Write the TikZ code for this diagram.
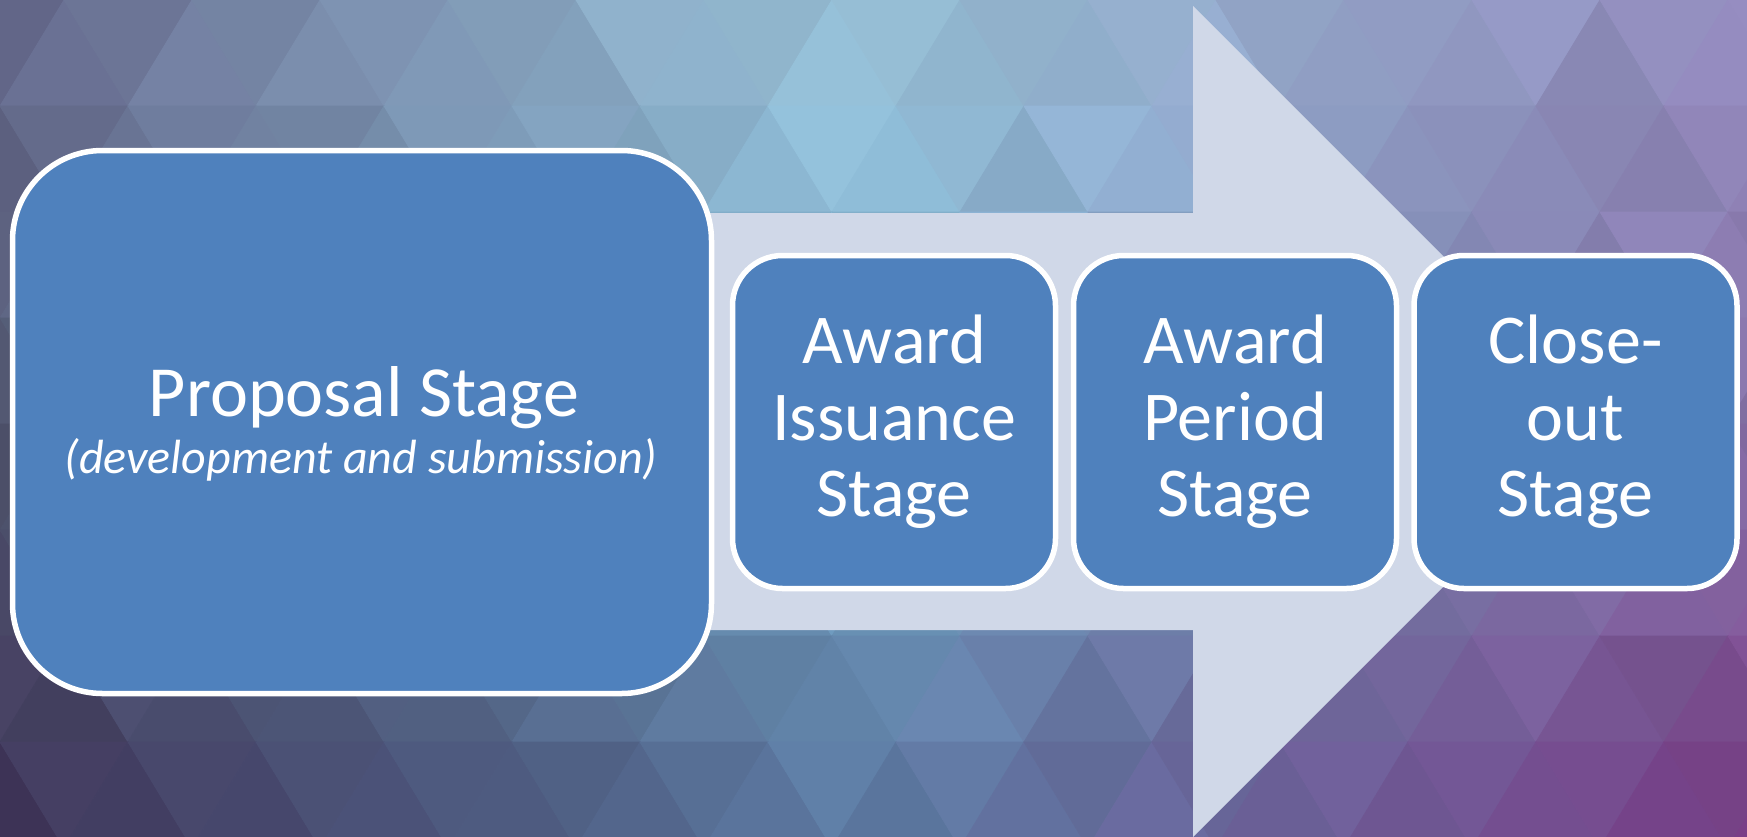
\documentclass[tikz,border=0pt]{standalone}
\usepackage{fontspec}
\setmainfont{Carlito}
\definecolor{TL}{HTML}{6E7299}
\definecolor{TM}{HTML}{A4D0E6}
\definecolor{TR}{HTML}{9890C4}
\definecolor{ML}{HTML}{565C76}
\definecolor{MM}{HTML}{7EB6D8}
\definecolor{MR}{HTML}{8C76AE}
\definecolor{BL}{HTML}{40345A}
\definecolor{BM}{HTML}{5E7CA6}
\definecolor{BR}{HTML}{7E3E8C}
\definecolor{stageblue}{HTML}{4F81BD}
\definecolor{arrowcol}{HTML}{D0D8E8}
\newcommand\mybgcol[2]{%
 \pgfmathsetmacro\fx{max(0,min(1,(#1)/1747))}%
 \pgfmathsetmacro\fy{max(0,min(1,(#2)/836))}%
 \ifdim\fx pt<0.5pt
   \pgfmathsetmacro\hx{\fx*200}%
   \colorlet{rT}{TM!\hx!TL}\colorlet{rM}{MM!\hx!ML}\colorlet{rB}{BM!\hx!BL}%
 \else
   \pgfmathsetmacro\hx{(\fx-0.5)*200}%
   \colorlet{rT}{TR!\hx!TM}\colorlet{rM}{MR!\hx!MM}\colorlet{rB}{BR!\hx!BM}%
 \fi
 \ifdim\fy pt<0.5pt
   \pgfmathsetmacro\hy{\fy*200}\colorlet{cc}{rM!\hy!rT}%
 \else
   \pgfmathsetmacro\hy{(\fy-0.5)*200}\colorlet{cc}{rB!\hy!rM}%
 \fi}
\begin{document}
\begin{tikzpicture}[x=1pt,y=-1pt,
  stagebox/.style={draw=white, line width=5.5pt, fill=stageblue, text=white,
    align=center, inner sep=0pt, font=\fontsize{70}{76.5}\selectfont},
  bigbox/.style={stagebox, minimum width=699pt, minimum height=543pt, rounded corners=90pt},
  smallbox/.style={stagebox, minimum width=323pt, minimum height=333pt, rounded corners=50pt},
  lbl/.style={text=white, inner sep=0pt, anchor=base}]
\useasboundingbox (0,0) rectangle (1747,836);
% background mosaic
\begin{scope}
\clip (0,0) rectangle (1747,836);
\pgfmathsetseed{11}
\foreach \r in {0,...,7}{
  \foreach \k in {-1,...,14}{
    \pgfmathsetmacro\off{mod(\r,2)*64}
    \pgfmathsetmacro\xa{\k*128+\off}
    \pgfmathsetmacro\ya{\r*106}
    \pgfmathsetmacro\yb{(\r+1)*106}
    % up triangle
    \mybgcol{\xa+64}{\ya+70}
    \pgfmathsetmacro\sh{100-10*rnd}
    \filldraw[fill=cc!\sh!black, draw=cc!\sh!black, line width=0.8pt]
      (\xa,\yb) -- (\xa+128,\yb) -- (\xa+64,\ya) -- cycle;
    % down triangle
    \mybgcol{\xa+128}{\ya+35}
    \pgfmathsetmacro\sh{100-10*rnd}
    \filldraw[fill=cc!\sh!black, draw=cc!\sh!black, line width=0.8pt]
      (\xa+64,\ya) -- (\xa+192,\ya) -- (\xa+128,\yb) -- cycle;
  }
}
\end{scope}
% big arrow
\fill[arrowcol] (700,213) -- (1193,213) -- (1193,6) -- (1608.5,421.5)
  -- (1193,837) -- (1193,630) -- (700,630) -- cycle;
% stages
\node[bigbox] (prop) at (362,422) {};
\node[lbl, font=\fontsize{72}{78}\selectfont] (propt) at (364,416) {Proposal Stage};
\node[lbl, font=\fontsize{48}{56}\selectfont\itshape] (props) at (361,473) {(development and submission)};
\node[smallbox] (issue) at (894,422) {Award\\Issuance\\Stage};
\node[smallbox] (period) at (1235,422) {Award\\Period\\Stage};
\node[smallbox] (close) at (1575.5,422) {Close-\\out\\Stage};
\end{tikzpicture}
\end{document}
